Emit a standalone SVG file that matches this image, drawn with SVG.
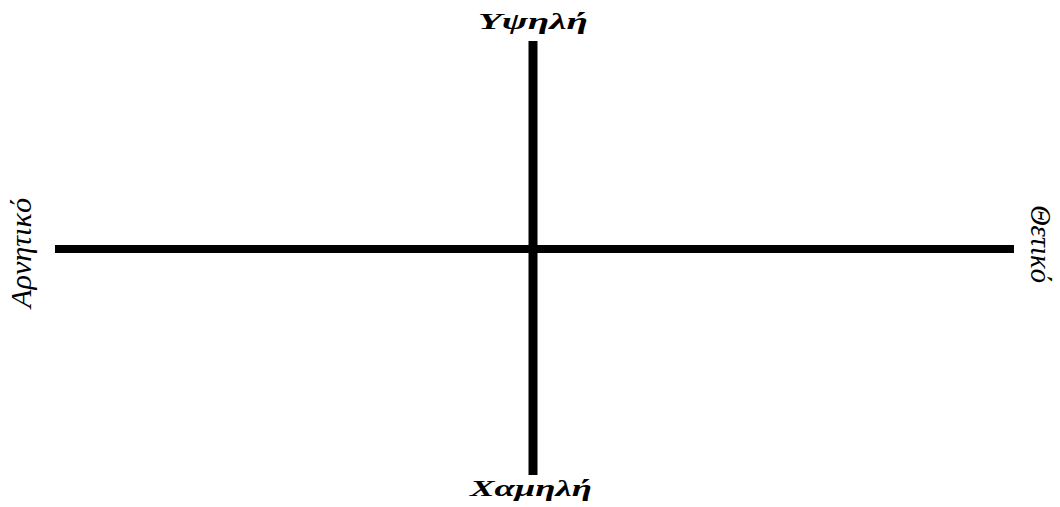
<svg xmlns="http://www.w3.org/2000/svg" width="1060" height="507" viewBox="0 0 1060 507">
<style>
.axis{stroke:#000;fill:none}
.lbl{font-family:"Liberation Serif","DejaVu Serif",serif;font-style:italic;fill:#000;text-anchor:middle}
.b{font-weight:bold}
</style>
<rect width="1060" height="507" fill="#fff"/>
<g id="connectors">
<line class="axis" x1="55" y1="249" x2="1014" y2="249" stroke-width="8"/>
<line class="axis" x1="533" y1="41" x2="533" y2="475" stroke-width="9"/>
</g>
<g id="top"><text class="lbl b" x="533" y="29" font-size="23" textLength="110" lengthAdjust="spacingAndGlyphs">Υψηλή</text></g>
<g id="bottom"><text class="lbl b" x="531" y="496" font-size="23" textLength="122" lengthAdjust="spacingAndGlyphs">Χαμηλή</text></g>
<g id="left"><text class="lbl" transform="translate(31,253) rotate(-90)" font-size="30" textLength="110" lengthAdjust="spacingAndGlyphs">Αρνητικό</text></g>
<g id="right"><text class="lbl" transform="translate(1031,244) rotate(90)" font-size="29" textLength="78" lengthAdjust="spacingAndGlyphs">Θετικό</text></g>
</svg>
